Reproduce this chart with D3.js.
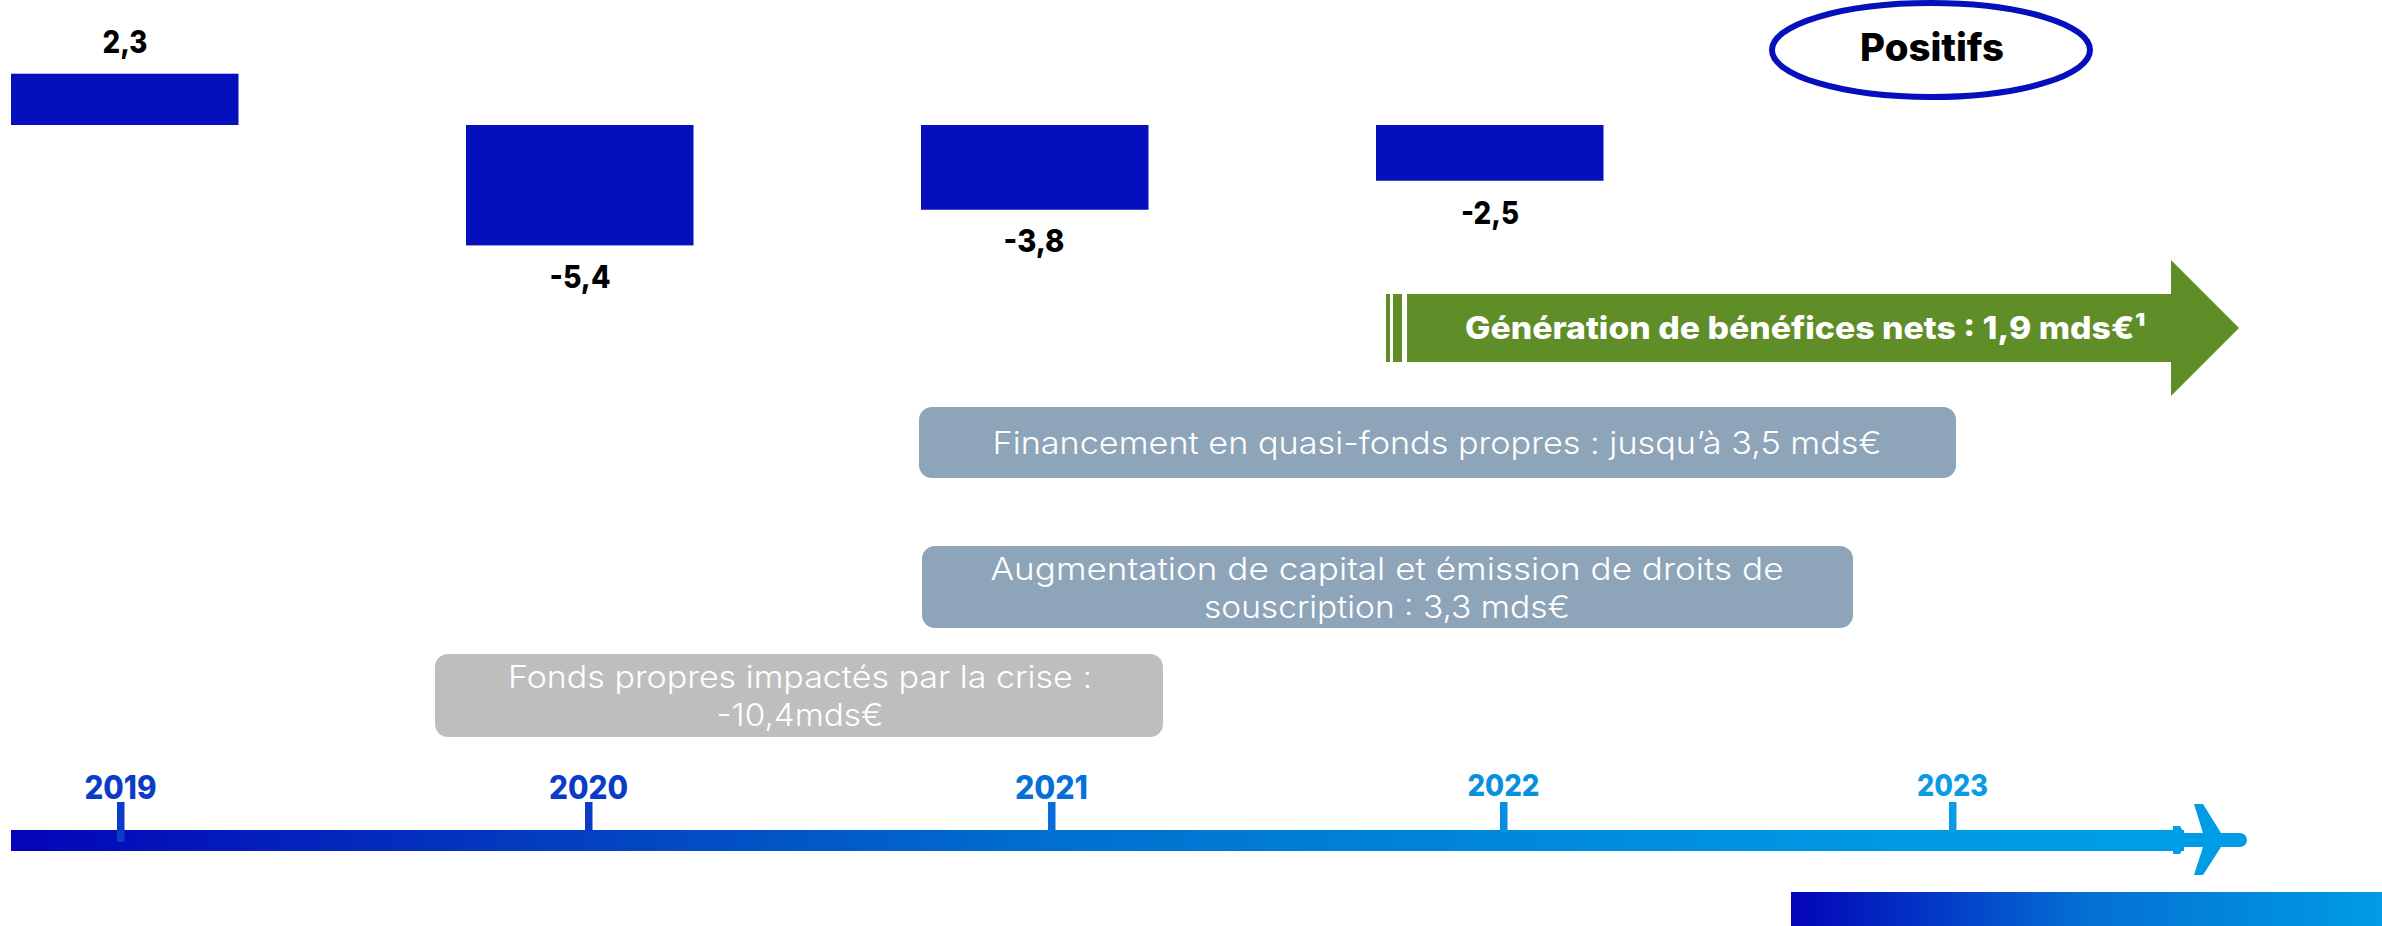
<!DOCTYPE html>
<meta charset="utf-8">
<script src="https://d3js.org/d3.v7.min.js"></script>
<style>
html, body { margin: 0; background: #fff; }
svg { display: block; }
text { font-family: "Inter", "Open Sans", sans-serif; }
</style>
<svg id="chart" width="2382" height="926"></svg>
<script>
// data
const years = [2019, 2020, 2021, 2022, 2023];
const barYears = [2019, 2020, 2021, 2022];
const barValues = [2.3, -5.4, -3.8, -2.5];
const barLabels = ["2,3", "-5,4", "-3,8", "-2,5"];
const tickColors = ["#0a3cc8", "#0a3cc8", "#0670d8", "#0890e0", "#0a9be5"];
const yearWidths = [72, 79, 73, 72, 71];

const boxTexts = [
  ["Financement en quasi-fonds propres : jusqu’à 3,5 mds€"],
  ["Augmentation de capital et émission de droits de", "souscription : 3,3 mds€"],
  ["Fonds propres impactés par la crise :", "-10,4mds€"]
];

const svg = d3.select("#chart");

const blue = "#050fbb";
const defs = svg.append("defs");

function gradient(id, stops) {
  const g = defs.append("linearGradient").attr("id", id);
  stops.forEach(s => g.append("stop").attr("offset", s[0]).attr("stop-color", s[1]));
}
gradient("timeGrad", [["0%", "#0404b8"], ["26%", "#0340c0"], ["48%", "#0070d0"], ["69%", "#0088dc"], ["88%", "#009ae4"], ["100%", "#009ce6"]]);
gradient("cornerGrad", [["0%", "#0404b8"], ["50%", "#0470d4"], ["100%", "#009ce4"]]);

// bars
const barXpos = d3.scaleOrdinal().domain(barYears).range([11, 466, 921, 1376]);
const barY = d3.scaleLinear().domain([0, 1]).range([125, 102.7]);
const labelX = [125, 580, 1034, 1490];
const labelBase = [53, 288, 252, 224];
const labelW = [45, 61, 61, 58];

svg.selectAll("rect.bar").data(barValues).enter().append("rect")
  .attr("class", "bar")
  .attr("x", (d, i) => barXpos(barYears[i]))
  .attr("width", 227.5)
  .attr("y", d => Math.min(barY(d), barY(0)))
  .attr("height", d => Math.abs(barY(d) - barY(0)))
  .attr("fill", blue);

svg.selectAll("text.barLabel").data(barLabels).enter().append("text")
  .attr("class", "barLabel")
  .attr("x", (d, i) => labelX[i])
  .attr("y", (d, i) => labelBase[i])
  .attr("text-anchor", "middle")
  .attr("font-size", 31)
  .attr("font-weight", 800)
  .attr("textLength", (d, i) => labelW[i])
  .attr("lengthAdjust", "spacingAndGlyphs")
  .text(d => d);

// Positifs
svg.append("ellipse")
  .attr("cx", 1931).attr("cy", 50).attr("rx", 159).attr("ry", 47)
  .attr("fill", "#fff").attr("stroke", "#050fbb").attr("stroke-width", 6);
svg.append("text")
  .attr("x", 1932).attr("y", 61)
  .attr("text-anchor", "middle")
  .attr("font-size", 38).attr("font-weight", 800)
  .attr("textLength", 144).attr("lengthAdjust", "spacingAndGlyphs")
  .text("Positifs");

// green arrow
const green = "#5f8d27";
svg.append("rect").attr("x", 1386).attr("y", 294).attr("width", 4).attr("height", 68).attr("fill", green);
svg.append("rect").attr("x", 1393).attr("y", 294).attr("width", 9).attr("height", 68).attr("fill", green);
svg.append("path")
  .attr("d", "M1407,294H2171V260L2239,328L2171,396V362H1407Z")
  .attr("fill", green);
svg.append("text")
  .attr("x", 1465).attr("y", 339)
  .attr("font-size", 31).attr("font-weight", 800).attr("fill", "#fff")
  .attr("textLength", 681).attr("lengthAdjust", "spacingAndGlyphs")
  .text("Génération de bénéfices nets : 1,9 mds€¹");

// rounded boxes
const boxX = [919, 922, 435];
const boxW = [1037, 931, 728];
const boxTop = [407, 546, 654];
const boxH = [71, 82, 83];
const boxFill = ["#8ea4b9", "#8ea4b9", "#bebebe"];
const boxCx = [1437, 1387, 800];
const boxBase = [[454], [580, 618], [688, 726]];
const boxLineW = [[889], [793, 366], [584, 167]];

boxTexts.forEach((lines, i) => {
  svg.append("rect")
    .attr("x", boxX[i]).attr("y", boxTop[i])
    .attr("width", boxW[i]).attr("height", boxH[i])
    .attr("rx", 13)
    .attr("fill", boxFill[i]);
  lines.forEach((t, j) => {
    svg.append("text")
      .attr("x", boxCx[i]).attr("y", boxBase[i][j])
      .attr("text-anchor", "middle")
      .attr("font-size", 31).attr("font-weight", 300).attr("fill", "#fff")
      .attr("textLength", boxLineW[i][j]).attr("lengthAdjust", "spacingAndGlyphs")
      .text(t);
  });
});

// timeline
const timeX = d3.scaleLinear().domain(years).range([120, 588, 1051, 1503, 1952]);

svg.append("rect")
  .attr("x", 11).attr("y", 830).attr("width", 2173).attr("height", 21)
  .attr("fill", "url(#timeGrad)");

// plane drawn on the end of the line
svg.append("path")
  .attr("d", "M2173,826H2180L2184,833H2203L2194,804H2203L2221,833H2240A7,7 0 0 1 2240,847H2221L2203,875H2194L2203,847H2184L2180,854H2173Z")
  .attr("fill", "#009ce6");

const axis = d3.axisTop(timeX)
  .tickValues(years)
  .tickFormat(d3.format("d"))
  .tickSize(0);

const axisG = svg.append("g").attr("transform", "translate(0,802)").call(axis);
axisG.select(".domain").remove();
axisG.selectAll(".tick").each(function(d, i) {
  const tick = d3.select(this);
  tick.append("rect")
    .attr("x", -3.5).attr("y", 0).attr("width", 7.5)
    .attr("height", i === 0 ? 40 : 30)
    .attr("fill", tickColors[i]);
  tick.select("text")
    .attr("y", i < 3 ? -3 : -6)
    .attr("dy", 0)
    .attr("font-family", "Inter")
    .attr("font-size", i < 3 ? 32 : 30)
    .attr("font-weight", 800)
    .attr("fill", tickColors[i])
    .attr("textLength", yearWidths[i])
    .attr("lengthAdjust", "spacingAndGlyphs");
});

// corner strip bottom right
svg.append("rect")
  .attr("x", 1791).attr("y", 892).attr("width", 591).attr("height", 34)
  .attr("fill", "url(#cornerGrad)");
</script>
